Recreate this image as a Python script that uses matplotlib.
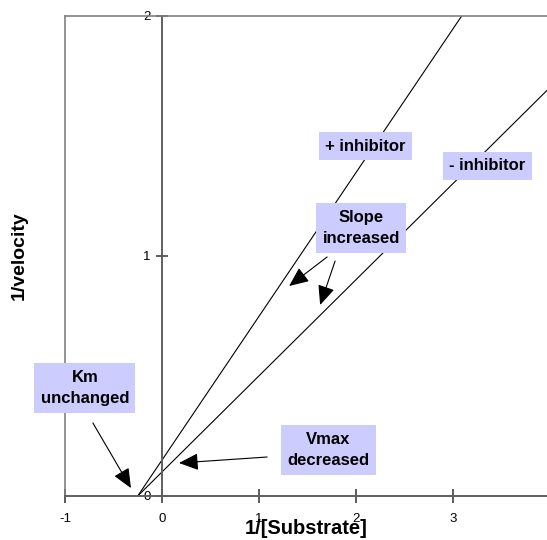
import matplotlib
matplotlib.use('Agg')
import matplotlib.pyplot as plt

plt.rcParams['font.family'] = ['Liberation Sans', 'DejaVu Sans']

# line data (1/[S], 1/v)
minus_x = [-0.25, 3.97]
minus_y = [0.0, 1.69]
plus_x = [-0.25, 3.09]
plus_y = [0.0, 2.0]

xticks = [-1, 0, 1, 2, 3]
yticks = [0, 1, 2]

box_fc = '#ccccff'
gray = '#808080'

fig = plt.figure(figsize=(5.47, 5.40), dpi=100)
ax = fig.add_axes([65 / 547, 44 / 540, 482 / 547, 480 / 540])

ax.plot(plus_x, plus_y, color='black', lw=0.8)
ax.plot(minus_x, minus_y, color='black', lw=0.8)

ax.set_xlim(-1, 3.97)
ax.set_ylim(0, 2)

ax.spines['right'].set_visible(False)
ax.spines['top'].set_color(gray)
ax.spines['top'].set_linewidth(1.2)
ax.spines['bottom'].set_color('#606060')
ax.spines['bottom'].set_linewidth(1.4)
ax.spines['left'].set_position(('data', 0))
ax.spines['left'].set_color('#606060')
ax.spines['left'].set_linewidth(1.4)
ax.axvline(-1, color=gray, lw=1.2, clip_on=False)

ax.set_xticks(xticks)
ax.set_yticks(yticks)
ax.set_xticklabels([str(t) for t in xticks])
ax.set_yticklabels([str(t) for t in yticks])
ax.tick_params(axis='x', direction='inout', length=10, width=1.2, color='#404040',
               labelsize=9.5, pad=7)
ax.tick_params(axis='y', direction='inout', length=8, width=1.2, color='#404040',
               labelsize=9.5, pad=4)

ax.set_xlabel('1/[Substrate]', fontsize=14.5, fontweight='bold', labelpad=0)
ax.xaxis.set_label_coords(0.5, -0.048)
ax.set_ylabel('1/velocity', fontsize=14, fontweight='bold')
ax.yaxis.set_label_coords(-0.077, 0.5)

bbox = dict(boxstyle='square,pad=0.38', fc=box_fc, ec='none')
tkw = dict(fontsize=12, fontweight='bold', ha='center', va='center',
           bbox=bbox, linespacing=1.55)

ax.text(2.095, 1.458, '+ inhibitor', **tkw)
ax.text(3.354, 1.375, '- inhibitor', **tkw)
ax.text(2.054, 1.117, 'Slope\nincreased', **tkw)
ax.text(-0.795, 0.45, 'Km\nunchanged', **tkw)
ax.text(1.713, 0.192, 'Vmax\ndecreased', **tkw)

akw = dict(arrowstyle='-|>,head_length=0.8,head_width=0.35', color='black',
           lw=0.8, shrinkA=0, shrinkB=0, mutation_scale=15)
ax.annotate('', xy=(1.311, 0.875), xytext=(1.703, 0.996), arrowprops=akw)
ax.annotate('', xy=(1.631, 0.796), xytext=(1.785, 0.979), arrowprops=akw)
ax.annotate('', xy=(-0.320, 0.033), xytext=(-0.712, 0.304), arrowprops=akw)
ax.annotate('', xy=(0.175, 0.1375), xytext=(1.084, 0.1625), arrowprops=akw)

fig.savefig('out.png', dpi=100)
